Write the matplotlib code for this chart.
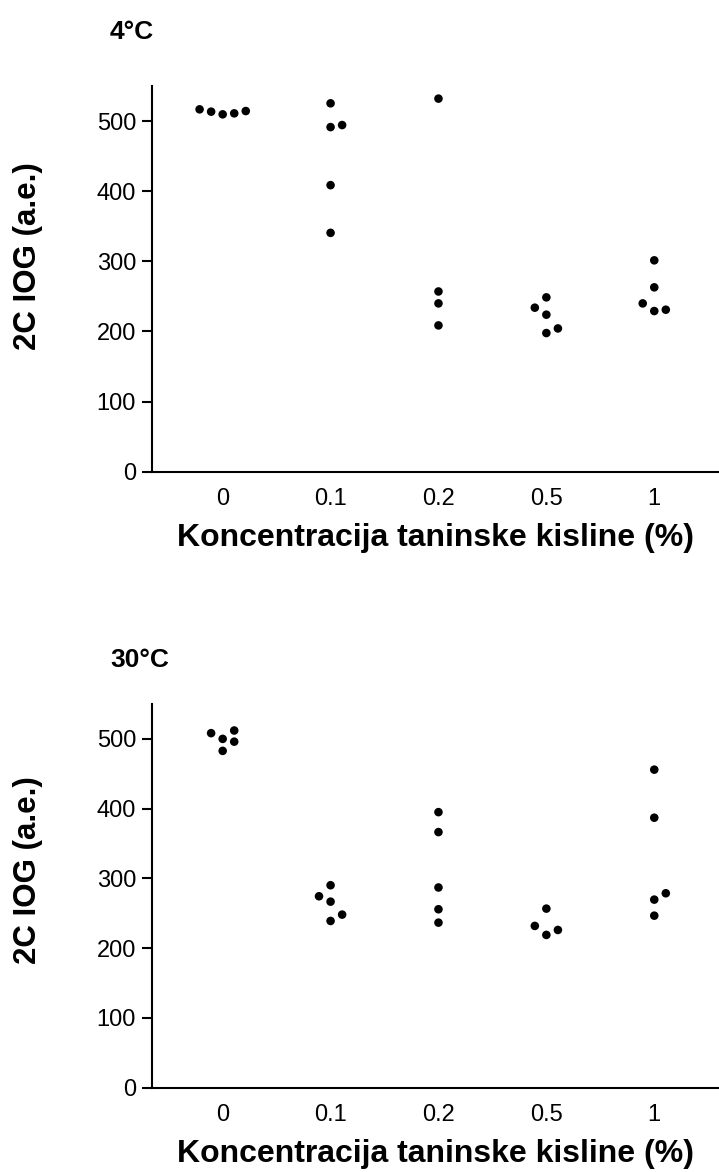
import matplotlib
matplotlib.use("Agg")
import matplotlib.pyplot as plt
import numpy as np

plt.rcParams['font.family'] = ['Liberation Sans', 'DejaVu Sans']

# ---------------- data ----------------
categories = ['0', '0.1', '0.2', '0.5', '1']

# 4 °C
c4_0 = [516.7, 513.4, 509.6, 511.0, 514.3]
c4_01 = [525.3, 491.4, 494.3, 408.6, 340.6]
c4_02 = [532.0, 257.0, 240.0, 208.6]
c4_05 = [248.6, 233.9, 223.9, 204.3, 197.7]
c4_1 = [301.4, 262.9, 240.0, 229.1, 231.0]

# 30 °C
c30_0 = [508.2, 500.0, 512.0, 496.0, 482.8]
c30_01 = [290.2, 274.4, 266.7, 248.1, 239.0]
c30_02 = [395.0, 366.4, 287.0, 255.8, 236.6]
c30_05 = [256.7, 231.9, 226.1, 219.0]
c30_1 = [455.9, 387.0, 278.7, 269.6, 246.6]

groups_4 = [c4_0, c4_01, c4_02, c4_05, c4_1]
groups_30 = [c30_0, c30_01, c30_02, c30_05, c30_1]

y_ticks = [0, 100, 200, 300, 400, 500]
titles = ['4°C', '30°C']
xlabel = 'Koncentracija taninske kisline (%)'
ylabel = '2C IOG (a.e.)'


def swarm_slots(vals, thresh):
    """Greedy column-scatter layout (slots in integer steps)."""
    order = np.argsort(vals)
    slots = np.zeros(len(vals), dtype=int)
    placed = []
    for i in order:
        v = vals[i]

        def free(s):
            return all(abs(v - pv) >= thresh for ps, pv in placed if ps == s)

        if free(0):
            s = 0
        else:
            k = 1
            while True:
                fp, fm = free(k), free(-k)
                if fp and fm:
                    npos = sum(1 for ps, _ in placed if ps > 0)
                    nneg = sum(1 for ps, _ in placed if ps < 0)
                    s = -k if nneg < npos else k
                    break
                elif fp:
                    s = k
                    break
                elif fm:
                    s = -k
                    break
                k += 1
        slots[i] = s
        placed.append((s, v))
    return slots


fig = plt.figure(figsize=(7.19, 11.72), dpi=100)

W, H = 719, 1172
ax_left = 152 / W
ax_w = 567 / W
axes_specs = [
    (1 - 471.7 / H, (471.7 - 86) / H),
    (1 - 1087.7 / H, (1087.7 - 704) / H),
]
title_y = [1 - 32 / H, 1 - 660 / H]
ylabel_y = [1 - 256 / H, 1 - 870 / H]

step = 0.107
for idx, (groups, (b, h)) in enumerate(zip([groups_4, groups_30], axes_specs)):
    ax = fig.add_axes([ax_left, b, ax_w, h])
    for ci, vals in enumerate(groups):
        vals = np.asarray(vals, dtype=float)
        slots = swarm_slots(vals, 14.0)
        ax.scatter(ci + slots * step, vals, s=38, c='black', edgecolors='none', zorder=3)
    ax.set_xlim(-0.655, 4.6)
    ax.set_ylim(0, 550)
    ax.set_yticks(y_ticks)
    ax.set_xticks(range(len(categories)))
    ax.set_xticklabels(categories)
    for sp in ['top', 'right']:
        ax.spines[sp].set_visible(False)
    for sp in ['left', 'bottom']:
        ax.spines[sp].set_linewidth(1.5)
    ax.tick_params(axis='y', length=7.5, width=1.5, labelsize=17, pad=4)
    ax.tick_params(axis='x', length=0, labelsize=17, pad=12)
    ax.set_xlabel(xlabel, fontsize=23, fontweight='bold', labelpad=9)
    fig.text(110 / W, title_y[idx], titles[idx], fontsize=19, fontweight='bold',
             ha='left', va='center')
    fig.text(28 / W, ylabel_y[idx], ylabel, fontsize=22.5, fontweight='bold',
             rotation=90, ha='center', va='center')

fig.savefig('out.png', dpi=100)
